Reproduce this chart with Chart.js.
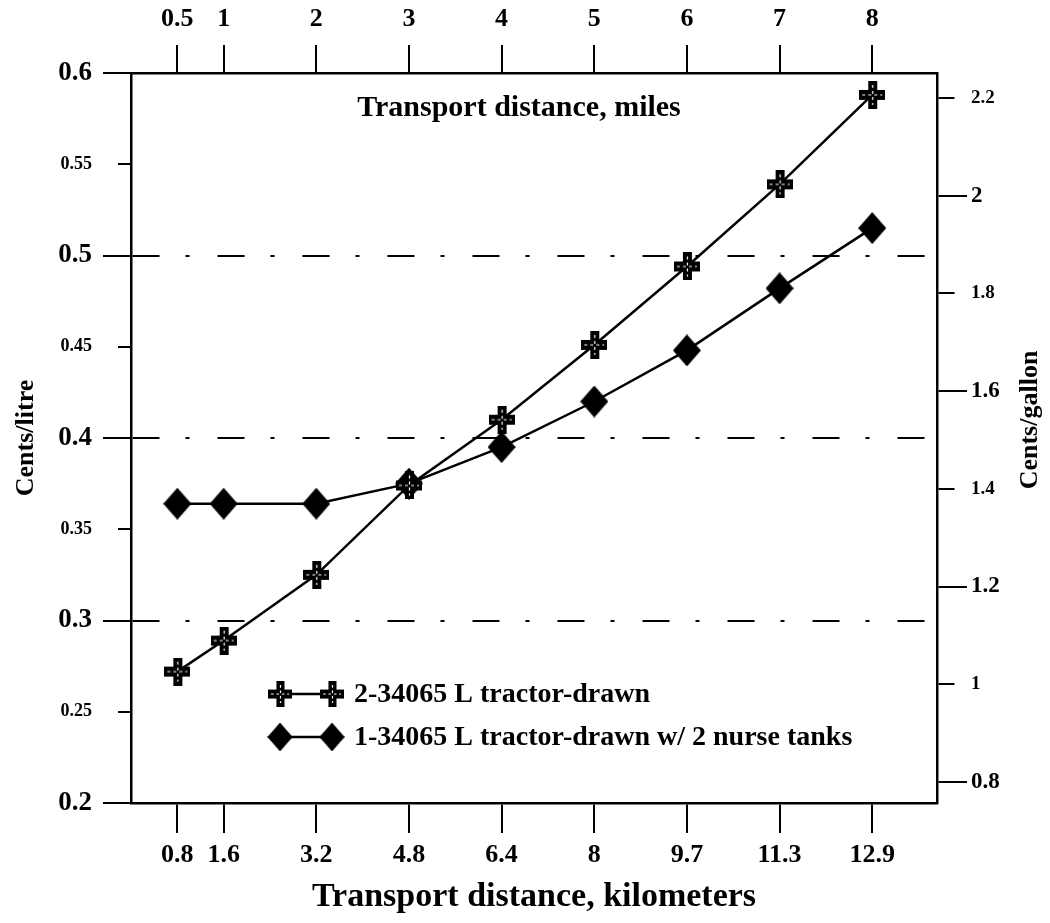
<!DOCTYPE html>
<html>
<head>
<meta charset="utf-8">
<script src="https://cdn.jsdelivr.net/npm/chart.js@4"></script>
<style>
  html, body { margin: 0; padding: 0; background: #fff; }
  .chart-wrap { position: relative; width: 1050px; height: 923px; }
</style>
</head>
<body>
<div class="chart-wrap"><canvas id="transport-chart"></canvas></div>
<script>
  const KM_PER_MILE = 1.609344;

  // distances (x), same points on both x axes
  const miles = [0.5, 1, 2, 3, 4, 5, 6, 7, 8];
  const kmLabels = ['0.8', '1.6', '3.2', '4.8', '6.4', '8', '9.7', '11.3', '12.9'];

  // cost, cents/litre
  const tractorDrawn = [0.272, 0.289, 0.325, 0.374, 0.410, 0.451, 0.494, 0.539, 0.588];
  const nurseTanks = [0.364, 0.364, 0.364, 0.375, 0.395, 0.420, 0.448, 0.482, 0.515];

  const seriesNames = ['2-34065 L tractor-drawn', '1-34065 L tractor-drawn w/ 2 nurse tanks'];

  // tick labels
  const litreTicks = [0.2, 0.25, 0.3, 0.35, 0.4, 0.45, 0.5, 0.55, 0.6];
  const gallonTicks = [0.8, 1, 1.2, 1.4, 1.6, 1.8, 2, 2.2];

  const FONT = "'Liberation Serif', 'Times New Roman', serif";

  function makeCross() {
    const c = document.createElement('canvas');
    c.width = 26; c.height = 28;
    const g = c.getContext('2d');
    g.fillStyle = '#000';
    g.fillRect(9, 0, 9, 28);
    g.fillRect(0, 9, 26, 10);
    // scanned look: a few white specks along the arms
    g.strokeStyle = '#fff';
    g.lineWidth = 1.2;
    g.setLineDash([3, 3]);
    g.beginPath();
    g.moveTo(13.5, 4); g.lineTo(13.5, 24);
    g.moveTo(3, 14); g.lineTo(23, 14);
    g.stroke();
    return c;
  }

  function makeDiamond() {
    const c = document.createElement('canvas');
    c.width = 28; c.height = 32;
    const g = c.getContext('2d');
    g.fillStyle = '#000';
    g.beginPath();
    g.moveTo(14, 0); g.lineTo(28, 16); g.lineTo(14, 32); g.lineTo(0, 16);
    g.closePath();
    g.fill();
    return c;
  }

  const crossMark = makeCross();
  const diamondMark = makeDiamond();

  const toPoints = vals => vals.map((v, i) => ({ x: miles[i] * KM_PER_MILE, y: v }));

  const isMajorLitre = v => Math.round(v * 100) % 10 === 0;
  const isMajorGallon = v => Math.round(v * 10) % 4 === 0;
  const tickVal = c => (c && c.tick ? c.tick.value : null);

  // legend + the in-plot miles title + right title, drawn on the canvas
  const annotations = {
    id: 'annotations',
    afterDraw(chart) {
      const { ctx, chartArea: ca } = chart;
      ctx.save();
      ctx.fillStyle = '#000';
      ctx.textBaseline = 'middle';

      ctx.font = `bold 30px ${FONT}`;
      ctx.textAlign = 'center';
      ctx.fillText('Transport distance, miles', (ca.left + ca.right) / 2 - 15, ca.top + 35);

      ctx.save();
      ctx.translate(1030, 420);
      ctx.rotate(-Math.PI / 2);
      ctx.font = `bold 26px ${FONT}`;
      ctx.fillText('Cents/gallon', 0, 0);
      ctx.restore();

      const marks = [crossMark, diamondMark];
      const rows = [ca.top + 621, ca.top + 664];
      const x1 = ca.left + 149, x2 = ca.left + 201;
      ctx.font = `bold 28px ${FONT}`;
      ctx.textAlign = 'left';
      chart.data.datasets.forEach((ds, i) => {
        const y = rows[i];
        ctx.strokeStyle = '#000';
        ctx.lineWidth = 2.5;
        ctx.beginPath();
        ctx.moveTo(x1, y); ctx.lineTo(x2, y);
        ctx.stroke();
        const m = marks[i];
        const w = m.width * 0.9, h = m.height * 0.9;
        ctx.drawImage(m, x1 - w / 2, y - h / 2, w, h);
        ctx.drawImage(m, x2 - w / 2, y - h / 2, w, h);
        ctx.fillText(ds.label, ca.left + 223, y + 1);
      });
      ctx.restore();
    }
  };

  const ctx = document.getElementById('transport-chart');
  new Chart(ctx, {
    type: 'line',
    data: {
      datasets: [
        {
          label: seriesNames[0],
          data: toPoints(tractorDrawn),
          borderColor: '#000',
          borderWidth: 2.5,
          pointStyle: crossMark,
          pointRadius: 13,
          yAxisID: 'y'
        },
        {
          label: seriesNames[1],
          data: toPoints(nurseTanks),
          borderColor: '#000',
          borderWidth: 2.5,
          pointStyle: diamondMark,
          pointRadius: 14,
          yAxisID: 'y'
        }
      ]
    },
    options: {
      responsive: true,
      maintainAspectRatio: false,
      animation: false,
      layout: { padding: 0 },
      plugins: { legend: { display: false }, tooltip: { enabled: false } },
      scales: {
        x: {
          type: 'linear',
          position: 'bottom',
          min: 0, max: 14,
          afterBuildTicks: axis => { axis.ticks = miles.map(m => ({ value: m * KM_PER_MILE })); },
          afterFit: axis => { axis.height = 120; },
          grid: { drawOnChartArea: false, tickLength: 30, tickColor: '#000', lineWidth: 2 },
          border: { color: '#000', width: 2.5 },
          ticks: {
            autoSkip: false, maxRotation: 0, padding: 7, color: '#000',
            font: { family: FONT, size: 26, weight: 'bold' },
            callback: (v, i) => kmLabels[i]
          },
          title: {
            display: true, text: 'Transport distance, kilometers', color: '#000',
            font: { family: FONT, size: 34, weight: 'bold' },
            padding: { top: 0, bottom: 5 }
          }
        },
        x2: {
          type: 'linear',
          position: 'top',
          min: 0, max: 14,
          afterBuildTicks: axis => { axis.ticks = miles.map(m => ({ value: m * KM_PER_MILE })); },
          afterFit: axis => { axis.height = 73; },
          grid: { drawOnChartArea: false, tickLength: 28, tickColor: '#000', lineWidth: 2 },
          border: { color: '#000', width: 2.5 },
          ticks: {
            autoSkip: false, maxRotation: 0, padding: 10, color: '#000',
            font: { family: FONT, size: 26, weight: 'bold' },
            callback: (v, i) => String(miles[i])
          }
        },
        y: {
          type: 'linear',
          position: 'left',
          min: 0.2, max: 0.6,
          afterBuildTicks: axis => { axis.ticks = litreTicks.map(v => ({ value: v })); },
          afterFit: axis => { axis.width = 131; },
          grid: {
            color: c => {
              const v = tickVal(c);
              return (v !== null && isMajorLitre(v) && v > 0.21 && v < 0.59) ? '#000' : 'rgba(0,0,0,0)';
            },
            lineWidth: 2,
            tickColor: '#000',
            tickWidth: 2,
            tickLength: 28,
            tickBorderDash: c => {
              const v = tickVal(c);
              return (v === null || isMajorLitre(v)) ? [] : [0, 15, 40];
            }
          },
          border: { color: '#000', width: 2.5, dash: [27, 26, 4, 28] },
          ticks: {
            padding: 11, color: '#000',
            font: c => {
              const v = tickVal(c);
              return (v === null || isMajorLitre(v))
                ? { family: FONT, size: 27, weight: 'bold' }
                : { family: FONT, size: 18, weight: 'bold' };
            },
            callback: v => String(v)
          },
          title: {
            display: true, text: 'Cents/litre', color: '#000',
            font: { family: FONT, size: 26, weight: 'bold' },
            padding: { top: 11, bottom: 0 }
          }
        },
        y2: {
          type: 'linear',
          position: 'right',
          min: 0.757, max: 2.251,
          afterBuildTicks: axis => { axis.ticks = gallonTicks.map(v => ({ value: v })); },
          afterFit: axis => { axis.width = 113; },
          grid: {
            drawOnChartArea: false,
            lineWidth: 2,
            tickColor: '#000',
            tickLength: 30,
            tickBorderDash: c => {
              const v = tickVal(c);
              return (v === null || isMajorGallon(v)) ? [] : [16, 100];
            }
          },
          border: { color: '#000', width: 2.5 },
          ticks: {
            padding: 4, color: '#000',
            font: c => {
              const v = tickVal(c);
              return (v === null || isMajorGallon(v))
                ? { family: FONT, size: 23, weight: 'bold' }
                : { family: FONT, size: 19, weight: 'bold' };
            },
            callback: v => String(v)
          }
        }
      }
    },
    plugins: [annotations]
  });
</script>
</body>
</html>
